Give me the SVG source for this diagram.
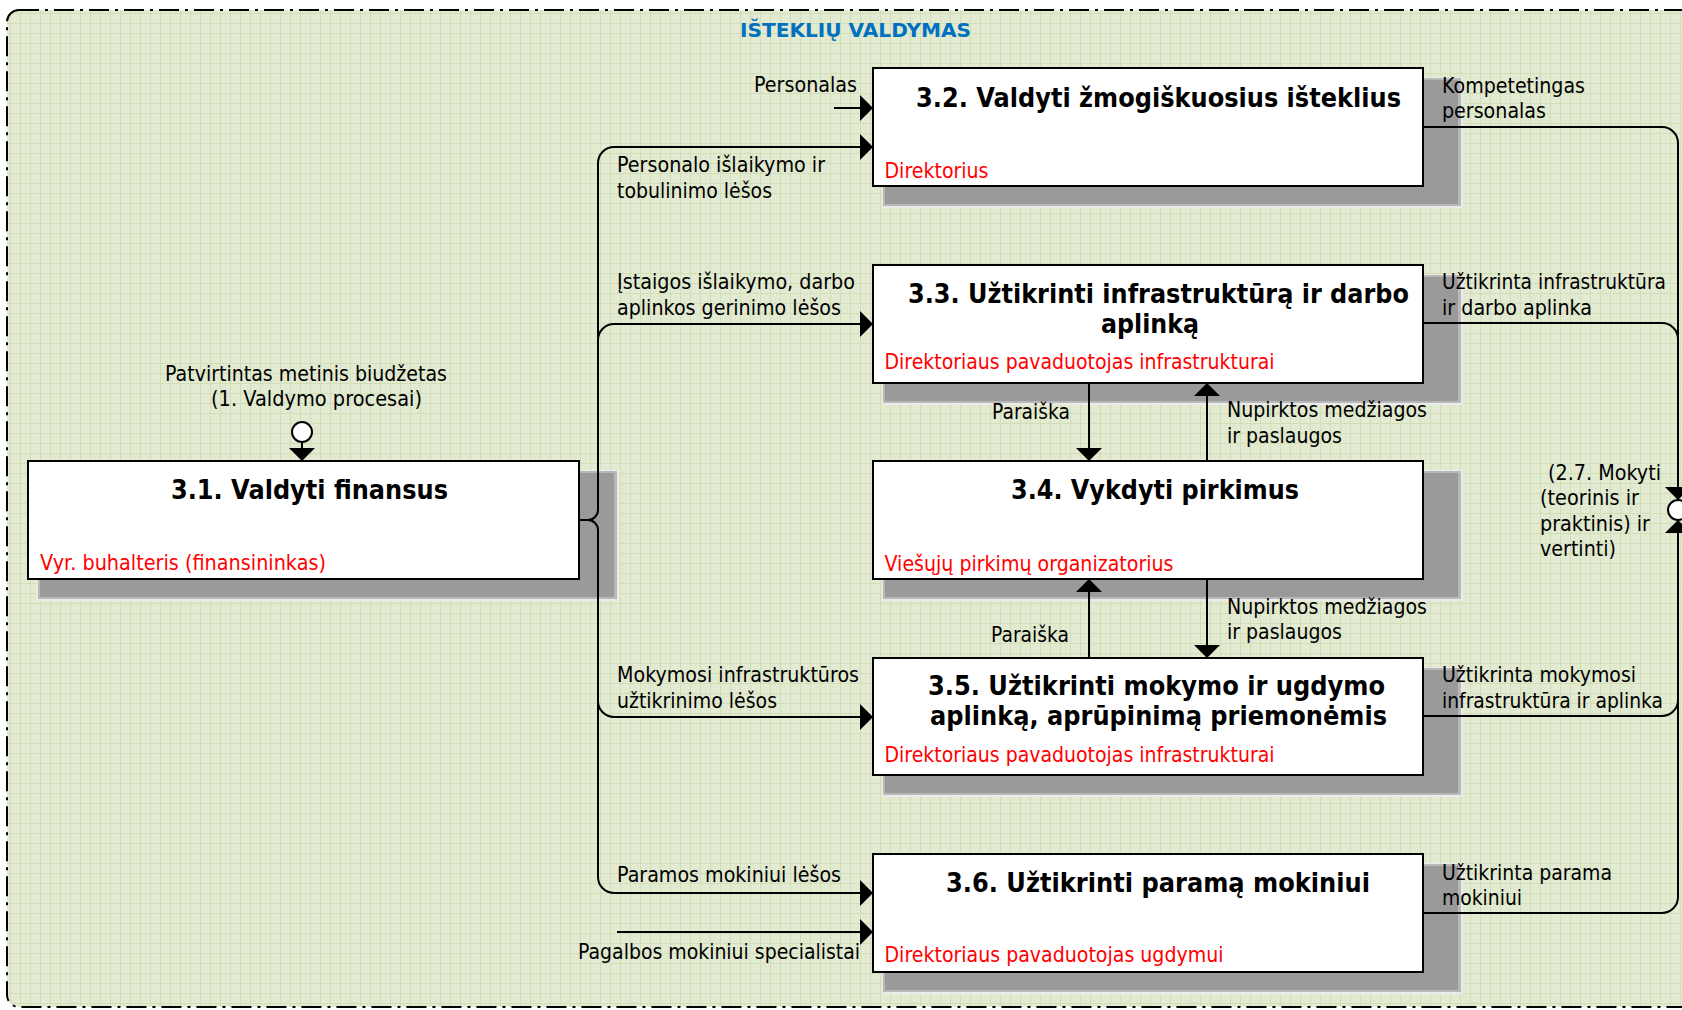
<svg xmlns="http://www.w3.org/2000/svg" width="1682" height="1010" viewBox="0 0 1682 1010">
<defs>
<pattern id="grid" width="10" height="10" patternUnits="userSpaceOnUse" y="3">
<rect width="10" height="10" fill="#e2ead2"/>
<path d="M0,0.5H10M0.5,0V10" stroke="#d2deb6" stroke-width="1" fill="none"/>
</pattern>
<marker id="ah" viewBox="0 0 13 26" refX="13" refY="13" markerWidth="13" markerHeight="26" markerUnits="userSpaceOnUse" orient="auto">
<path d="M0,0L13,13L0,26Z" fill="#000"/>
</marker>
<style>
.t{font-family:"DejaVu Sans","Liberation Sans",sans-serif;font-size:21px;fill:#000}
.b{font-weight:bold;font-size:26px}
.r{fill:#ff0000}
.ttl{font-family:"DejaVu Sans","Liberation Sans",sans-serif;font-weight:bold;font-size:20px;fill:#0070c0}
.box{fill:#fff;stroke:#000;stroke-width:2}
.s1{fill:#ebebeb}
.s2{fill:#b8b8b8}
.s3{fill:#9a9a9a}
.c{fill:none;stroke:#000;stroke-width:2}
.ca{fill:none;stroke:#000;stroke-width:2;marker-end:url(#ah)}
.o{fill:#fff;stroke:#000;stroke-width:2}
</style>
</defs>

<g id="frame">
<rect x="7" y="10" width="1700" height="997" rx="12" fill="url(#grid)"/>
<rect x="7" y="10" width="1700" height="997" rx="12" fill="none" stroke="#000" stroke-width="2" stroke-dasharray="20 6 3 6"/>
<text class="ttl" x="740" y="37" textLength="231" lengthAdjust="spacingAndGlyphs">IŠTEKLIŲ VALDYMAS</text>
</g>

<g id="n31">
<rect class="s1" x="37" y="470" width="582" height="131"/>
<rect class="s2" x="38" y="471" width="579" height="128"/>
<rect class="s3" x="40" y="473" width="574" height="124"/>
<rect class="box" x="28" y="461" width="551" height="118"/>
<text class="t b" x="171" y="499" textLength="277" lengthAdjust="spacingAndGlyphs">3.1. Valdyti finansus</text>
<text class="t r" x="40" y="570" textLength="286" lengthAdjust="spacingAndGlyphs">Vyr. buhalteris (finansininkas)</text>
</g>

<g id="n32">
<rect class="s1" x="882" y="77" width="581" height="131"/>
<rect class="s2" x="883" y="78" width="578" height="128"/>
<rect class="s3" x="885" y="80" width="573" height="124"/>
<rect class="box" x="873" y="68" width="550" height="118"/>
<text class="t b" x="916" y="107" textLength="485" lengthAdjust="spacingAndGlyphs">3.2. Valdyti žmogiškuosius išteklius</text>
<text class="t r" x="884.5" y="178" textLength="104" lengthAdjust="spacingAndGlyphs">Direktorius</text>
</g>

<g id="n33">
<rect class="s1" x="882" y="274" width="581" height="131"/>
<rect class="s2" x="883" y="275" width="578" height="128"/>
<rect class="s3" x="885" y="277" width="573" height="124"/>
<rect class="box" x="873" y="265" width="550" height="118"/>
<text class="t b" x="908" y="303" textLength="501" lengthAdjust="spacingAndGlyphs">3.3. Užtikrinti infrastruktūrą ir darbo</text>
<text class="t b" x="1101" y="333" textLength="98" lengthAdjust="spacingAndGlyphs">aplinką</text>
<text class="t r" x="884.5" y="369" textLength="390" lengthAdjust="spacingAndGlyphs">Direktoriaus pavaduotojas infrastrukturai</text>
</g>

<g id="n34">
<rect class="s1" x="882" y="470" width="581" height="131"/>
<rect class="s2" x="883" y="471" width="578" height="128"/>
<rect class="s3" x="885" y="473" width="573" height="124"/>
<rect class="box" x="873" y="461" width="550" height="118"/>
<text class="t b" x="1011" y="499" textLength="288" lengthAdjust="spacingAndGlyphs">3.4. Vykdyti pirkimus</text>
<text class="t r" x="884.5" y="571" textLength="289" lengthAdjust="spacingAndGlyphs">Viešųjų pirkimų organizatorius</text>
</g>

<g id="n35">
<rect class="s1" x="882" y="667" width="581" height="130"/>
<rect class="s2" x="883" y="668" width="578" height="127"/>
<rect class="s3" x="885" y="670" width="573" height="123"/>
<rect class="box" x="873" y="658" width="550" height="117"/>
<text class="t b" x="928" y="695" textLength="457" lengthAdjust="spacingAndGlyphs">3.5. Užtikrinti mokymo ir ugdymo</text>
<text class="t b" x="930" y="725" textLength="457" lengthAdjust="spacingAndGlyphs">aplinką, aprūpinimą priemonėmis</text>
<text class="t r" x="884.5" y="762" textLength="390" lengthAdjust="spacingAndGlyphs">Direktoriaus pavaduotojas infrastrukturai</text>
</g>

<g id="n36">
<rect class="s1" x="882" y="863" width="581" height="131"/>
<rect class="s2" x="883" y="864" width="578" height="128"/>
<rect class="s3" x="885" y="866" width="573" height="124"/>
<rect class="box" x="873" y="854" width="550" height="118"/>
<text class="t b" x="946" y="892" textLength="424" lengthAdjust="spacingAndGlyphs">3.6. Užtikrinti paramą mokiniui</text>
<text class="t r" x="884.5" y="962" textLength="339" lengthAdjust="spacingAndGlyphs">Direktoriaus pavaduotojas ugdymui</text>
</g>

<g id="connectors">
<path class="ca" d="M834,108H873"/>
<path class="c" d="M579,520H588"/>
<path class="ca" d="M588,520A10,10 0 0 0 598,510V163A16,16 0 0 1 614,147H873"/>
<path class="ca" d="M598,340A16,16 0 0 1 614,324H873"/>
<path class="ca" d="M588,520A10,10 0 0 1 598,530V877A16,16 0 0 0 614,893H873"/>
<path class="ca" d="M598,701A16,16 0 0 0 614,717H873"/>
<path class="ca" d="M617,932H873"/>
<path class="ca" d="M302,442V461"/>
<circle class="o" cx="302" cy="432" r="10"/>
<path class="ca" d="M1089,383V461"/>
<path class="ca" d="M1207,461V383"/>
<path class="ca" d="M1089,658V579"/>
<path class="ca" d="M1207,579V658"/>
<path class="ca" d="M1423,127H1662A16,16 0 0 1 1678,143V500"/>
<path class="c" d="M1423,323H1662A16,16 0 0 1 1678,339"/>
<path class="ca" d="M1423,913H1662A16,16 0 0 0 1678,897V520"/>
<path class="c" d="M1423,716H1662A16,16 0 0 0 1678,700"/>
<circle class="o" cx="1678" cy="510" r="10"/>

<text class="t" x="754" y="92" textLength="103" lengthAdjust="spacingAndGlyphs">Personalas</text>
<text class="t" x="617" y="172" textLength="208" lengthAdjust="spacingAndGlyphs">Personalo išlaikymo ir</text>
<text class="t" x="617" y="198" textLength="155" lengthAdjust="spacingAndGlyphs">tobulinimo lėšos</text>
<text class="t" x="617" y="289" textLength="238" lengthAdjust="spacingAndGlyphs">Įstaigos išlaikymo, darbo</text>
<text class="t" x="617" y="315" textLength="224" lengthAdjust="spacingAndGlyphs">aplinkos gerinimo lėšos</text>
<text class="t" x="165" y="381" textLength="282" lengthAdjust="spacingAndGlyphs">Patvirtintas metinis biudžetas</text>
<text class="t" x="211" y="406" textLength="211" lengthAdjust="spacingAndGlyphs">(1. Valdymo procesai)</text>
<text class="t" x="617" y="682" textLength="242" lengthAdjust="spacingAndGlyphs">Mokymosi infrastruktūros</text>
<text class="t" x="617" y="708" textLength="160" lengthAdjust="spacingAndGlyphs">užtikrinimo lėšos</text>
<text class="t" x="617" y="882" textLength="224" lengthAdjust="spacingAndGlyphs">Paramos mokiniui lėšos</text>
<text class="t" x="578" y="959" textLength="282" lengthAdjust="spacingAndGlyphs">Pagalbos mokiniui specialistai</text>
<text class="t" x="992" y="419" textLength="78" lengthAdjust="spacingAndGlyphs">Paraiška</text>
<text class="t" x="991" y="642" textLength="78" lengthAdjust="spacingAndGlyphs">Paraiška</text>
<text class="t" x="1227" y="417" textLength="200" lengthAdjust="spacingAndGlyphs">Nupirktos medžiagos</text>
<text class="t" x="1227" y="443" textLength="115" lengthAdjust="spacingAndGlyphs">ir paslaugos</text>
<text class="t" x="1227" y="614" textLength="200" lengthAdjust="spacingAndGlyphs">Nupirktos medžiagos</text>
<text class="t" x="1227" y="639" textLength="115" lengthAdjust="spacingAndGlyphs">ir paslaugos</text>
<text class="t" x="1442" y="93" textLength="143" lengthAdjust="spacingAndGlyphs">Kompetetingas</text>
<text class="t" x="1442" y="118" textLength="104" lengthAdjust="spacingAndGlyphs">personalas</text>
<text class="t" x="1442" y="289" textLength="224" lengthAdjust="spacingAndGlyphs">Užtikrinta infrastruktūra</text>
<text class="t" x="1442" y="315" textLength="150" lengthAdjust="spacingAndGlyphs">ir darbo aplinka</text>
<text class="t" x="1442" y="682" textLength="194" lengthAdjust="spacingAndGlyphs">Užtikrinta mokymosi</text>
<text class="t" x="1442" y="708" textLength="221" lengthAdjust="spacingAndGlyphs">infrastruktūra ir aplinka</text>
<text class="t" x="1442" y="880" textLength="170" lengthAdjust="spacingAndGlyphs">Užtikrinta parama</text>
<text class="t" x="1442" y="905" textLength="80" lengthAdjust="spacingAndGlyphs">mokiniui</text>
<text class="t" x="1548" y="480" textLength="113" lengthAdjust="spacingAndGlyphs">(2.7. Mokyti</text>
<text class="t" x="1540" y="505" textLength="99" lengthAdjust="spacingAndGlyphs">(teorinis ir</text>
<text class="t" x="1540" y="531" textLength="110" lengthAdjust="spacingAndGlyphs">praktinis) ir</text>
<text class="t" x="1540" y="556" textLength="76" lengthAdjust="spacingAndGlyphs">vertinti)</text>
</g>
</svg>
